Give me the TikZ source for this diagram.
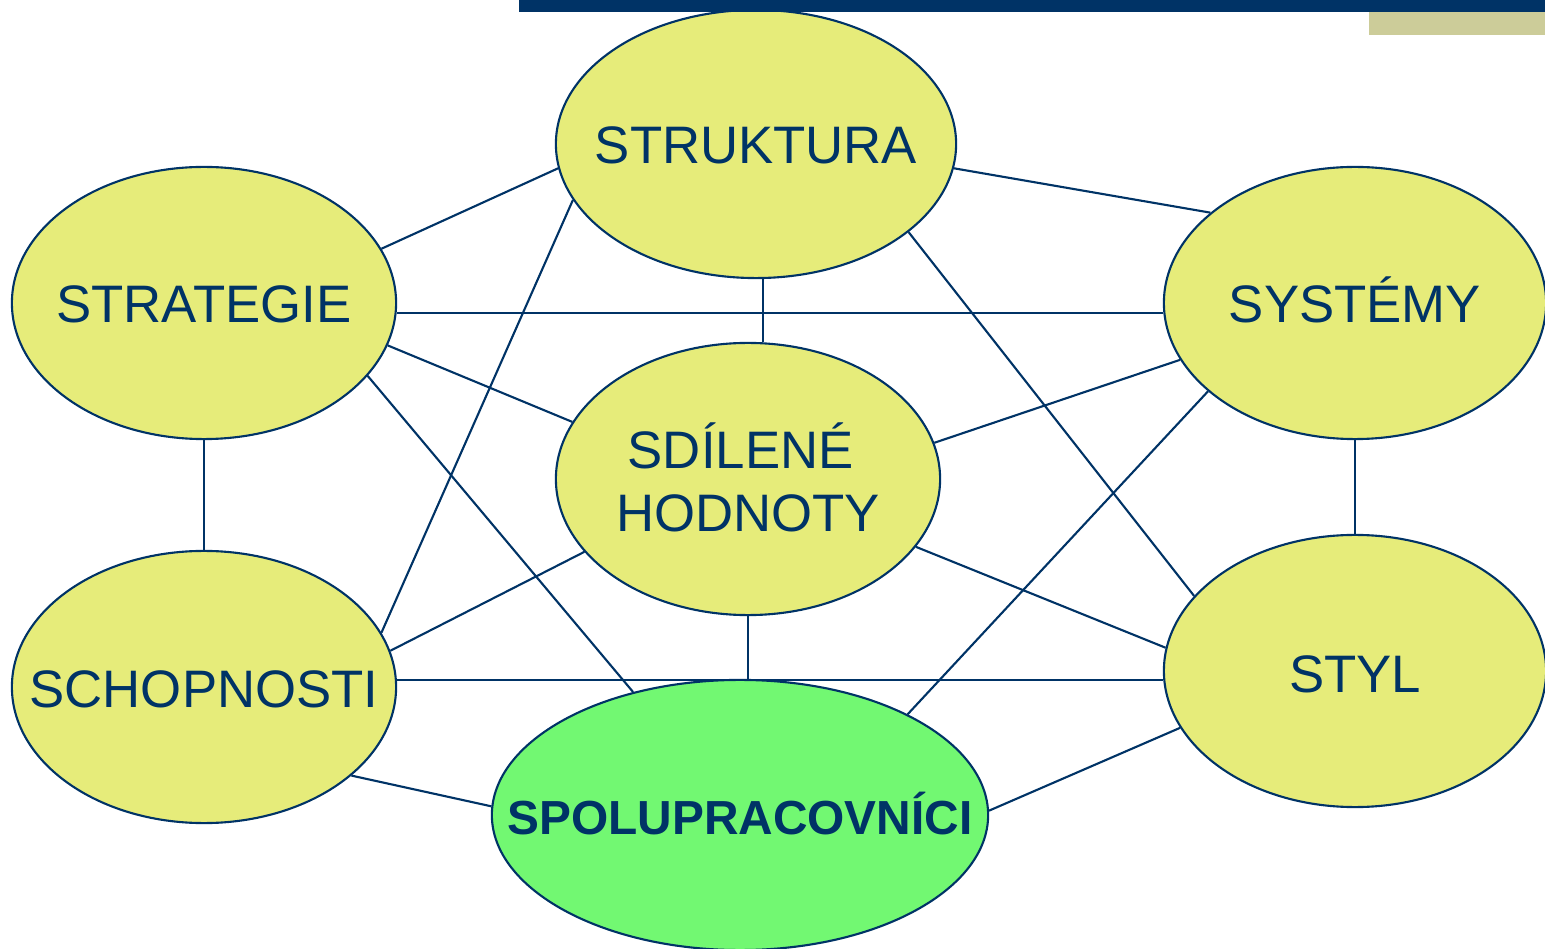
\documentclass[tikz,border=0pt]{standalone}
\usepackage{fontspec}
\setmainfont{Liberation Sans}
\usetikzlibrary{shapes.geometric,backgrounds}
\definecolor{navy}{RGB}{0,51,102}
\definecolor{lime}{RGB}{230,236,122}
\definecolor{leaf}{RGB}{114,248,114}
\definecolor{khaki}{RGB}{204,204,153}
\tikzset{
  factor/.style={ellipse, draw=navy, line width=0.6pt, fill=lime,
    minimum width=3.84cm, minimum height=2.72cm, inner sep=0pt},
  factortext/.style={text=navy, font=\fontsize{15}{18}\selectfont, align=center},
  link/.style={draw=navy, line width=0.6pt}
}
\begin{document}
\begin{tikzpicture}[x=0.01cm,y=-0.01cm]
            \useasboundingbox (0,0) rectangle (1545,949);

            % Marking the seven factors
            \node [factor, minimum width=4.00cm, minimum height=2.68cm, label={[factortext, yshift=-0.3pt]center:STRUKTURA}] (struk) at (756,144) {};
            \node [factor, label={[factortext, yshift=-0.5pt]center:STRATEGIE}] (strat) at (204,303) {};
            \node [factor, minimum width=3.82cm, label={[factortext, yshift=0.9pt]center:SYSTÉMY}] (syst) at (1355,303) {};
            \node [factor, label={[factortext, yshift=0.5pt]center:SDÍLENÉ\hspace*{4.2pt}\\HODNOTY}] (sdil) at (748,479) {};
            \node [factor, label={[factortext, yshift=-0.7pt]center:SCHOPNOSTI}] (schop) at (204,687) {};
            \node [factor, minimum width=3.82cm, label={[factortext, yshift=-1pt]center:STYL}] (styl) at (1355,671) {};
            \node [factor, fill=leaf, minimum width=4.96cm, minimum height=2.70cm,
              label={[factortext, yshift=0.5pt, font=\fontsize{13.6}{16}\selectfont\bfseries]center:SPOLUPRACOVNÍCI}] (spolu) at (740,815) {};

            \begin{scope}[on background layer]
            % Drawing segment struktura strategie
            \draw [link] (struk.187) -- (strat.17.6);%
            % Drawing segment struktura systemy
            \draw [link] (struk.353) -- (syst.148.5);%
            % Drawing segment struktura sdilene
            \draw [link] (struk.273) -- (struk.273 |- sdil.north);%
            % Drawing segment struktura styl
            \draw [link] (struk.330) -- (styl.155);%
            % Drawing segment struktura schopnosti
            \draw [link] (struk.197) -- (schop.17.4);%

            % Drawing segment strategie systemy
            \draw [link] (strat.-3) -- (strat.-3 -| syst.west);%
            % Drawing segment strategie sdilene
            \draw [link] (strat.-13) -- (sdil.162.6);%
            % Drawing segment strategie spolupracovnici
            \draw [link] (strat.-24.5) -- (spolu.131);%
            % Drawing segment strategie schopnosti
            \draw [link] (strat.south) -- (schop.north);%

            % Drawing segment systemy sdilene
            \draw [link] (syst.198) -- (sdil.11.5);%
            % Drawing segment systemy styl
            \draw [link] (syst.south) -- (styl.north);%
            % Drawing segment systemy spolupracovnici
            \draw [link] (syst.211.8) -- (spolu.31.5);%

            % Drawing segment sdilene schopnosti
            \draw [link] (sdil.204.5) -- (schop.11.5);%
            % Drawing segment sdilene styl
            \draw [link] (sdil.-22.5) -- (styl.173);%
            % Drawing segment sdilene spolupracovnici
            \draw [link] (sdil.south) -- (sdil.south |- spolu.north);%

            % Drawing segment schopnosti styl
            \draw [link] (schop.2) -- (schop.2 -| styl.west);%
            % Drawing segment schopnosti spolupracovnici
            \draw [link] (schop.-31.7) -- (spolu.178.4);%
            % Drawing segment styl spolupracovnici
            \draw [link] (styl.198) -- (spolu.1.6);%
            \end{scope}

            % Drawing the bars at the top
            \fill [navy] (519,0) rectangle (1545,12);%
            \fill [khaki] (1369,12) rectangle (1545,35);%
\end{tikzpicture}
\end{document}
